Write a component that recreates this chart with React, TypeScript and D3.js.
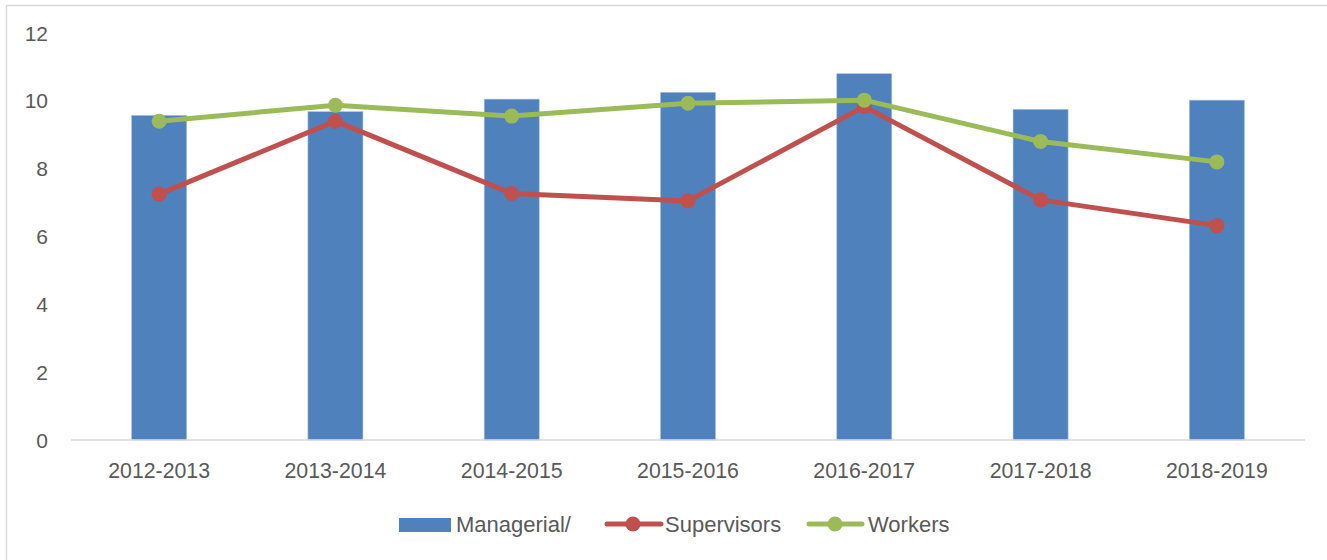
import React from "react";
import * as d3 from "d3";

const categories = ["2012-2013", "2013-2014", "2014-2015", "2015-2016", "2016-2017", "2017-2018", "2018-2019"];
const managerial = [9.57, 9.68, 10.05, 10.25, 10.8, 9.75, 10.02];
const supervisors = [7.25, 9.4, 7.27, 7.05, 9.83, 7.08, 6.32];
const workers = [9.4, 9.87, 9.55, 9.93, 10.02, 8.8, 8.2];
const yTicks = [0, 2, 4, 6, 8, 10, 12];
const seriesNames = ["Managerial/", "Supervisors", "Workers"];

const W = 1327;
const H = 560;
const BLUE = "#4f81bd";
const RED = "#c0504d";
const GREEN = "#9bbb59";
const TEXT = "#595959";
const FONT = "'Liberation Sans', Arial, sans-serif";

export default function App() {
  const x = d3.scaleBand<string>().domain(categories).range([71, 1305]).paddingInner(0.688).paddingOuter(0.344);
  const y = d3.scaleLinear().domain([0, 12]).range([440, 33]);
  const cx = (c: string) => (x(c) as number) + x.bandwidth() / 2;
  const line = d3.line<number>().x((_, i) => cx(categories[i])).y((d) => y(d));

  const lineSeries = [
    { name: seriesNames[1], values: supervisors, color: RED },
    { name: seriesNames[2], values: workers, color: GREEN },
  ];

  return (
    <svg width={W} height={H} style={{ position: "absolute", left: 0, top: 0 }} fontFamily={FONT}>
      <rect x={0} y={0} width={W} height={H} fill="#fff" />
      <rect x={6.5} y={5.5} width={W + 20} height={H + 20} fill="none" stroke="#d9d9d9" strokeWidth={1.5} />
      {yTicks.map((t) => (
        <text key={t} x={48} y={y(t)} dy="0.36em" textAnchor="end" fontSize={21} fill={TEXT}>
          {t}
        </text>
      ))}
      {categories.map((c, i) => (
        <rect
          key={c}
          x={x(c)}
          y={y(managerial[i])}
          width={x.bandwidth()}
          height={y(0) - y(managerial[i])}
          fill={BLUE}
          stroke="#a9c0de"
          strokeWidth={0.6}
        />
      ))}
      <line x1={71} x2={1305} y1={y(0)} y2={y(0)} stroke="#d9d9d9" strokeWidth={1.5} />
      {categories.map((c) => (
        <text key={c} x={cx(c)} y={478} textAnchor="middle" fontSize={21.3} fill={TEXT}>
          {c}
        </text>
      ))}
      {lineSeries.map((s) => (
        <g key={s.name}>
          <path d={line(s.values) || ""} fill="none" stroke={s.color} strokeWidth={5} strokeLinejoin="round" strokeLinecap="round" />
          {s.values.map((v, i) => (
            <circle key={i} cx={cx(categories[i])} cy={y(v)} r={7.5} fill={s.color} />
          ))}
        </g>
      ))}
      {/* legend */}
      <g>
        <rect x={399} y={518} width={52} height={14} fill={BLUE} />
        <text x={456} y={532} fontSize={22} fill={TEXT}>{seriesNames[0]}</text>
        <line x1={607} x2={661} y1={524} y2={524} stroke={RED} strokeWidth={5} strokeLinecap="round" />
        <circle cx={633} cy={524} r={7.5} fill={RED} />
        <text x={665} y={532} fontSize={22} fill={TEXT}>{seriesNames[1]}</text>
        <line x1={809} x2={862} y1={524} y2={524} stroke={GREEN} strokeWidth={5} strokeLinecap="round" />
        <circle cx={835} cy={524} r={7.5} fill={GREEN} />
        <text x={868} y={532} fontSize={22} fill={TEXT}>{seriesNames[2]}</text>
      </g>
    </svg>
  );
}
